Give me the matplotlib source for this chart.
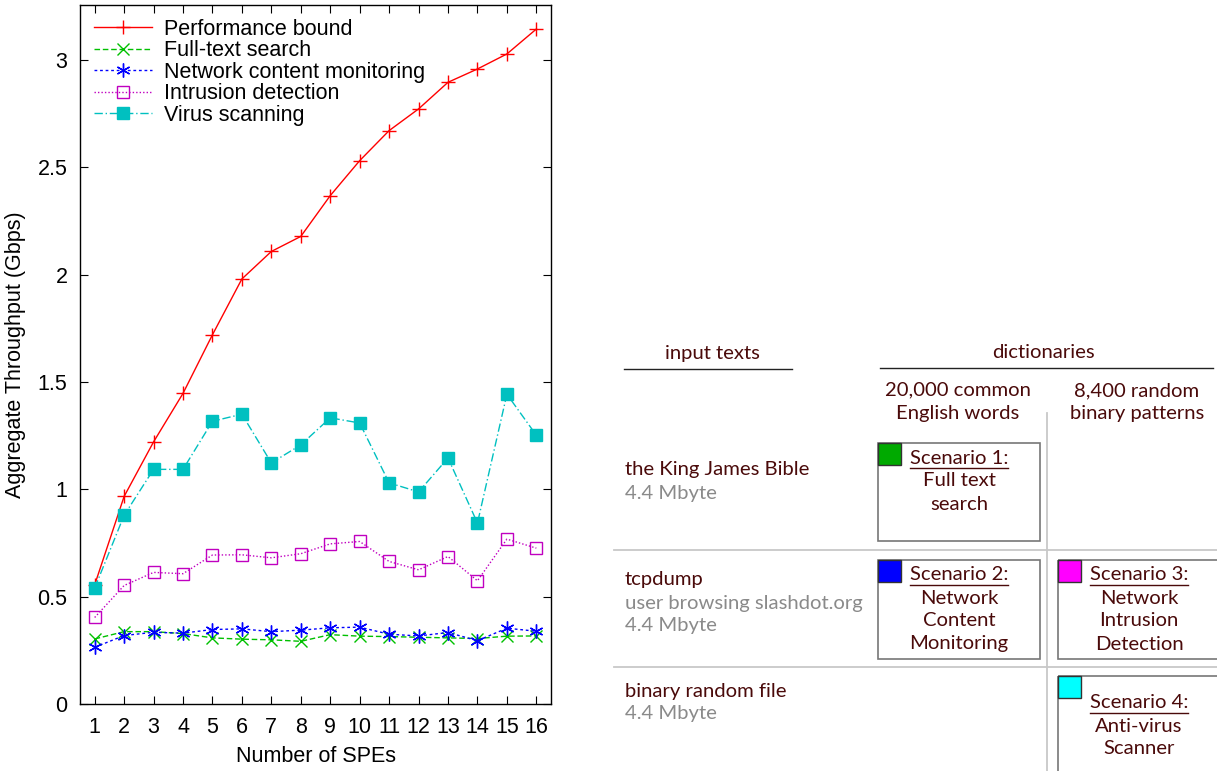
import matplotlib.pyplot as plt
import numpy as np

# throughput per number of SPEs (Gbps)
spes = np.arange(1, 17)
perf_bound = [0.555, 0.967, 1.221, 1.447, 1.72, 1.98, 2.108, 2.178, 2.368, 2.531,
              2.671, 2.772, 2.896, 2.958, 3.028, 3.144]
full_text = [0.303, 0.337, 0.337, 0.328, 0.308, 0.302, 0.299, 0.292, 0.323, 0.316,
             0.314, 0.311, 0.308, 0.305, 0.316, 0.317]
net_content = [0.264, 0.319, 0.334, 0.330, 0.347, 0.350, 0.337, 0.344, 0.355, 0.358,
               0.325, 0.317, 0.333, 0.295, 0.353, 0.339]
intrusion = [0.403, 0.552, 0.613, 0.607, 0.694, 0.695, 0.681, 0.700, 0.746, 0.757,
             0.664, 0.625, 0.687, 0.574, 0.768, 0.726]
virus = [0.540, 0.879, 1.093, 1.093, 1.317, 1.350, 1.123, 1.207, 1.333, 1.309,
         1.030, 0.988, 1.146, 0.843, 1.443, 1.252]
yticks = [0, 0.5, 1, 1.5, 2, 2.5, 3]
ytick_labels = ['0', '0.5', '1', '1.5', '2', '2.5', '3']

plt.rcParams['font.family'] = ['Liberation Sans', 'DejaVu Sans']

fig = plt.figure(figsize=(12.17, 7.71), dpi=100)
ax = fig.add_axes([0.0657, 0.0869, 0.3871, 0.9066])

ax.plot(spes, perf_bound, color='#ff0000', lw=1, ls='-', marker='+', ms=10, mew=1,
        label='Performance bound')
ax.plot(spes, full_text, color='#00c000', lw=1, ls=(0, (4, 2)), marker='x', ms=8, mew=1,
        label='Full-text search')
ax.plot(spes, net_content, color='#0000ff', lw=1, ls=(0, (2, 2)), marker=(6, 2, 0), ms=10, mew=1,
        label='Network content monitoring')
ax.plot(spes, intrusion, color='#c000c0', lw=1, ls=(0, (1, 1.5)), marker='s', ms=9, mew=1,
        mfc='none', label='Intrusion detection')
ax.plot(spes, virus, color='#00c0c0', lw=1, ls=(0, (6, 2, 1, 2)), marker='s', ms=9,
        mec='#00c0c0', label='Virus scanning')

ax.set_xlim(0.5, 16.5)
ax.set_ylim(0, 3.256)
ax.set_xticks(spes)
ax.set_yticks(yticks)
ax.set_yticklabels(ytick_labels)
ax.tick_params(direction='in', top=True, right=True, length=6, labelsize=15.5, pad=9)
ax.set_xlabel('Number of SPEs', fontsize=15.5, labelpad=6)
ax.set_ylabel('Aggregate Throughput (Gbps)', fontsize=15.5, labelpad=8)
for s in ax.spines.values():
    s.set_linewidth(1)

ax.legend(loc='upper left', frameon=False, fontsize=15.5, handlelength=2.7,
          labelspacing=0.02, borderaxespad=0.25, handletextpad=0.55,
          bbox_to_anchor=(0.0, 1.0))

# scenario table on the right, in pixel coordinates
ov = fig.add_axes([0, 0, 1, 1])
ov.set_xlim(0, 1217)
ov.set_ylim(771, 0)
ov.axis('off')

dark = '#4a0a0a'
gray = '#8a8a8a'
tfont = ['Lato', 'DejaVu Sans']
fs = 14.6

def txt(x, y, s, color=dark, ha='left'):
    return ov.text(x, y, s, color=color, ha=ha, va='center', fontsize=fs, family=tfont)

# headers
txt(712, 353, 'input texts', ha='center')
ov.plot([624, 792], [369, 369], color='#222222', lw=1)
txt(1043, 353, 'dictionaries', ha='center')
ov.plot([880, 1213], [368, 368], color='#222222', lw=1)
txt(958, 390, '20,000 common', ha='center')
txt(958, 413, 'English words', ha='center')
txt(1137, 391, '8,400 random', ha='center')
txt(1137, 414, 'binary patterns', ha='center')

# grid lines
ov.plot([1047, 1047], [413, 771], color='#c8c8c8', lw=1.3)
ov.plot([614, 1217], [550, 550], color='#c8c8c8', lw=1.3)
ov.plot([614, 1217], [667, 667], color='#c8c8c8', lw=1.3)

# row labels
txt(625, 469, 'the King James Bible')
txt(625, 493, '4.4 Mbyte', color=gray)
txt(625, 580, 'tcpdump')
txt(625, 603, 'user browsing slashdot.org', color=gray)
txt(625, 626, '4.4 Mbyte', color=gray)
txt(625, 691, 'binary random file')
txt(625, 714, '4.4 Mbyte', color=gray)

# scenario boxes: (x, y, w, h, swatch colour, text lines, first line y)
boxes = [
    (878, 443, 162, 98, '#00aa00', ['Scenario 1:', 'Full text', 'search'], 458),
    (878, 560, 162, 99, '#0000ff', ['Scenario 2:', 'Network', 'Content', 'Monitoring'], 575),
    (1058, 560, 170, 99, '#ff00ff', ['Scenario 3:', 'Network', 'Intrusion', 'Detection'], 575),
    (1058, 676, 170, 110, '#00ffff', ['Scenario 4:', 'Anti-virus', 'Scanner'], 703),
]
titles = []
for bx, by, bw, bh, sw, lines, ty in boxes:
    ov.add_patch(plt.Rectangle((bx, by), bw, bh, fill=False, ec='#777777', lw=1.2,
                               clip_on=False))
    ov.add_patch(plt.Rectangle((bx, by), 23, 22, fc=sw, ec='#333333', lw=1))
    cx = bx + 81
    for k, line in enumerate(lines):
        t = txt(cx, ty + 23 * k, line, ha='center')
        if k == 0:
            titles.append((t, ty))

# underline the scenario titles
fig.canvas.draw()
r = fig.canvas.get_renderer()
inv = ov.transData.inverted()
for t, ty in titles:
    bb = t.get_window_extent(r)
    (x0, _), (x1, _) = inv.transform([[bb.x0, bb.y0], [bb.x1, bb.y1]])
    ov.plot([x0, x1], [ty + 10, ty + 10], color=dark, lw=1)

fig.savefig('out.png', dpi=100)
